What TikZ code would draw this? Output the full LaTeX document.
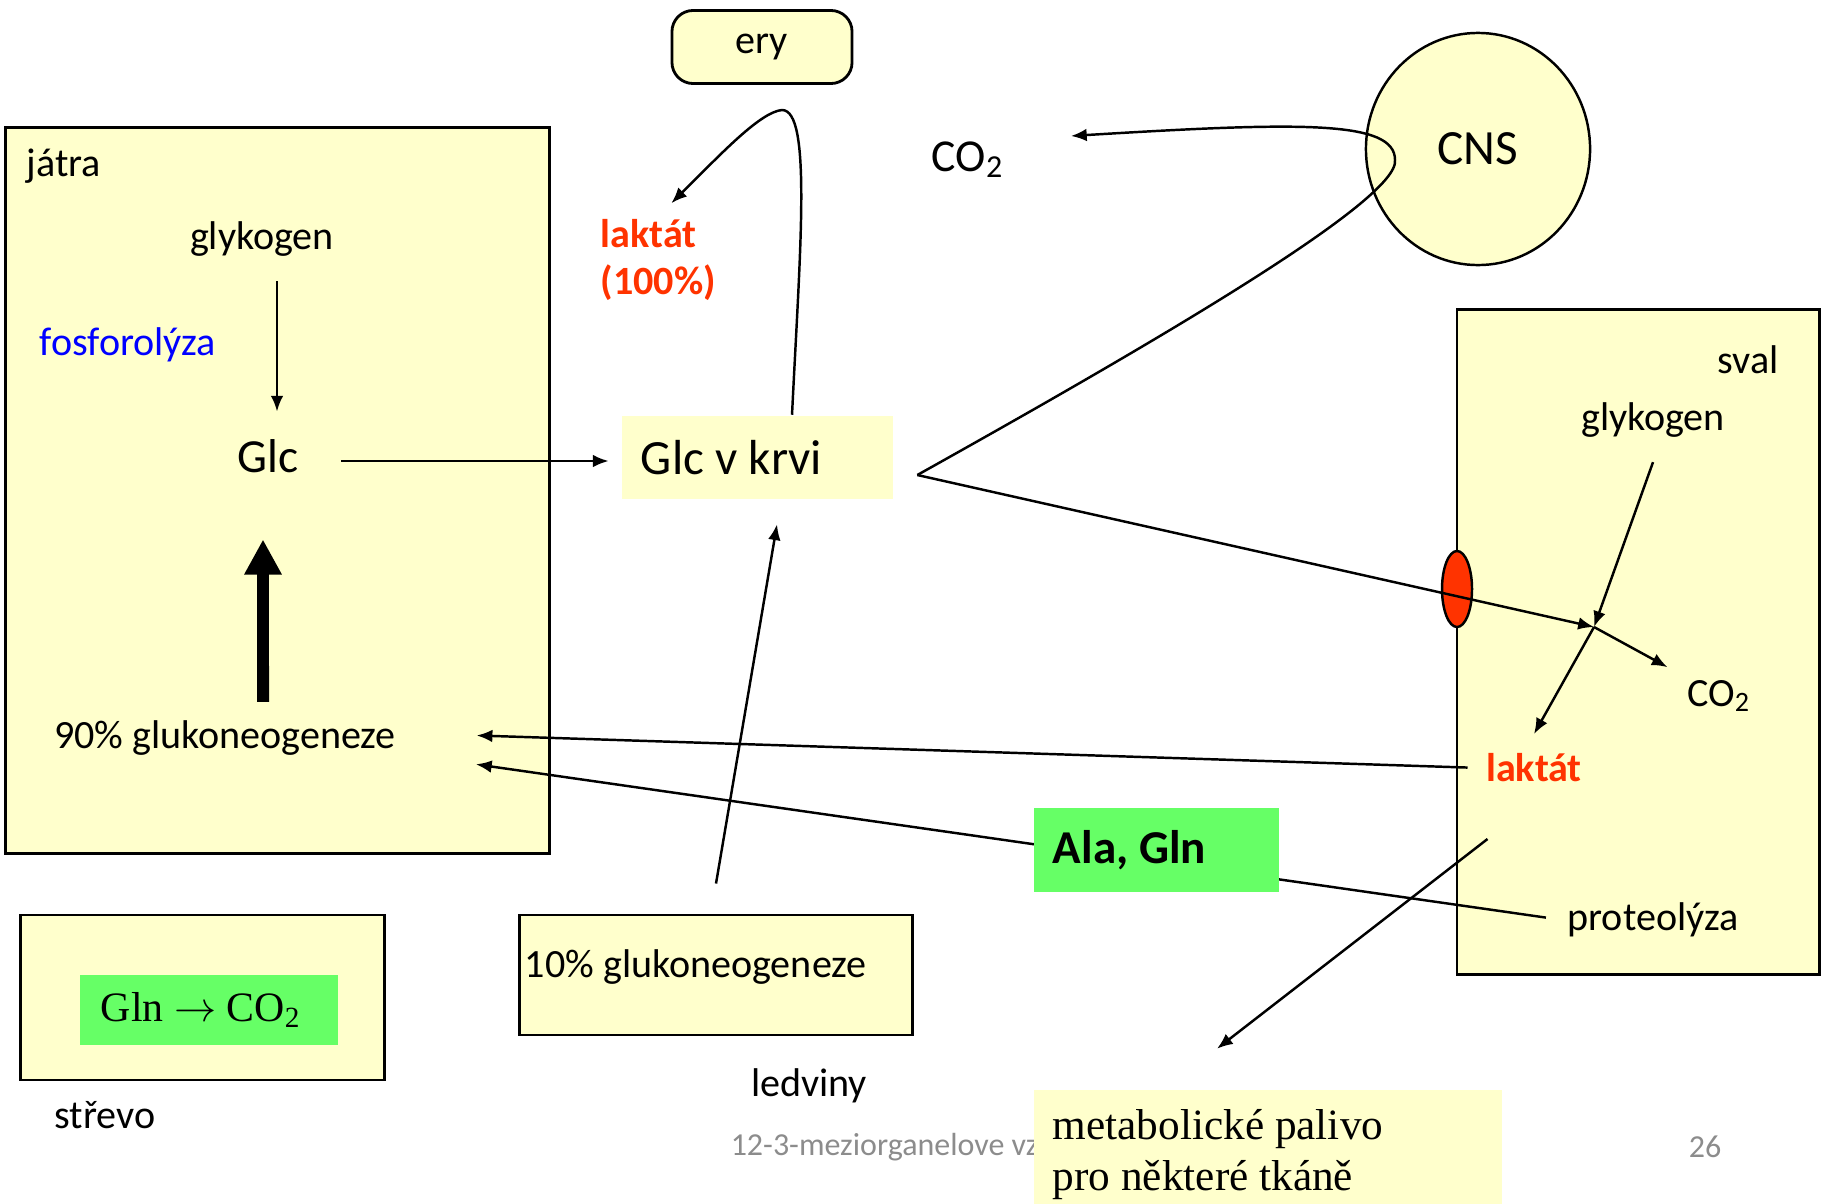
\documentclass[tikz,border=0pt]{standalone}
\usepackage{fontspec}
\setmainfont{Carlito}
\newfontfamily\timesfont{Liberation Serif}
\usetikzlibrary{arrows.meta,shapes.geometric}
\definecolor{paleyellow}{HTML}{FFFFCC}
\definecolor{brightgreen}{HTML}{66FF66}
\definecolor{lacred}{HTML}{FF3300}
\definecolor{footgray}{HTML}{8C8C8C}
\begin{document}
\begin{tikzpicture}[x=0.01cm,y=-0.01cm,line width=0.7pt,
		>={Latex[length=4.5pt,width=3.6pt]},
		font=\fontsize{11.4}{13.6}\selectfont,
		organ/.style={draw,fill=paleyellow,line width=0.8pt},
		txt/.style={inner sep=1pt},
		big/.style={font=\fontsize{14}{16}\selectfont},
		serif/.style={font=\timesfont\fontsize{12.3}{14.5}\selectfont},
		bigarrow/.style={line width=3.4pt,-{Triangle[length=10pt,width=10pt]}}]
		\useasboundingbox (0,0) rectangle (1825,1203);
		% organs
		\node [organ,minimum width=5.43cm,minimum height=7.25cm] (liver) at (277.5,490.5) {};
		\node [organ,rounded corners=6pt,minimum width=1.8cm,minimum height=0.73cm] (ery) at (762,47) {ery};
		\node [organ,minimum width=3.62cm,minimum height=6.64cm] (muscle) at (1638,642) {};
		\node [organ,minimum width=3.92cm,minimum height=1.2cm] (kidney) at (716,975) {};
		\node [organ,minimum width=3.63cm,minimum height=1.65cm] (gut) at (202.5,997.5) {};
		\node [organ,ellipse,line width=0.7pt,minimum width=2.24cm,minimum height=2.32cm,big] (cns) at (1478,149) {CNS};
		\node [fill=paleyellow,minimum width=2.71cm,minimum height=0.83cm,text width=2.33cm,inner xsep=0.19cm,align=flush left,big] (blood) at (757.5,457.5) {Glc v krvi};
		% liver
		\node [txt,anchor=west] (livername) at (22,166) {játra};
		\node [txt] (glykL) at (262,239) {glykogen};
		\node [txt,text=blue] (phos) at (128,345) {fosforolýza};
		\node [txt,big,font=\fontsize{13.5}{16}\selectfont] (glcL) at (268,456) {Glc};
		\node [txt] (gng90) at (225,738) {90\% glukoneogeneze};
		\node [txt,anchor=west,align=flush left,text=lacred,font=\bfseries\fontsize{11.4}{13.6}\selectfont] (lak100) at (596,260) {laktát\\(100\%)};
		\node [txt,font=\fontsize{13}{15}\selectfont] (co2top) at (968,160) {CO\textsubscript{2}};
		% muscle
		\node [txt] (svalname) at (1748,360) {sval};
		\node [txt] (glykS) at (1653,420) {glykogen};
		\node [txt] (co2S) at (1719,696) {CO\textsubscript{2}};
		\node [txt,text=lacred,font=\bfseries\fontsize{11.4}{13.6}\selectfont] (lakS) at (1534,768) {laktát};
		\node [txt] (proteo) at (1653,920) {proteolýza};
		\node [organ,ellipse,fill=lacred,line width=0.7pt,minimum width=0.3cm,minimum height=0.76cm,inner sep=0pt] (carrier) at (1457,589) {};
		\coordinate (jct) at (1594,627);
		% kidney, gut
		\node [txt,anchor=west] (gng10) at (520,967) {10\% glukoneogeneze};
		\node [txt] (kidneyname) at (809,1086) {ledviny};
		\node [fill=brightgreen,minimum width=2.58cm,minimum height=0.7cm,text width=2.16cm,inner xsep=0.21cm,align=flush left,serif,font=\timesfont\fontsize{11.9}{14}\selectfont] (glnco) at (209,1010) {Gln $\rightarrow$ CO\textsubscript{2}};
		\node [txt] (gutname) at (105,1115) {střevo};
		% footer
		\node [txt,anchor=west,text=footgray,font=\fontsize{9.1}{11}\selectfont] (footer) at (726,1147) {12-3-meziorganelove vz};
		\node [txt,text=footgray,font=\fontsize{9.1}{11}\selectfont] (pagenum) at (1705,1147) {26};
		% connectors
		\draw [->,shorten >=0.23cm] ([xshift=0.15cm,yshift=-0.2cm]glykL.south) -- ([xshift=0.15cm]glykL.south |- glcL.north);
		\draw [->,shorten <=0.38cm,shorten >=0.12cm] ([yshift=-0.05cm]glcL.east) -- ([yshift=-0.05cm]glcL.east -| blood.west);
		\draw [bigarrow] ([xshift=0.38cm,yshift=0.14cm]gng90.north) -- ([xshift=-0.05cm,yshift=-0.62cm]glcL.south);
		\draw [->] ([xshift=0.345cm]blood.north) .. controls (800,250) and (812,110) .. (782,110)
			.. controls (760,112) and (720,155) .. ([xshift=0.13cm,yshift=0.11cm]lak100.north);
		\coordinate (fork) at ([shift={(0.23cm,-0.175cm)}]blood.east);
		\draw [->] (fork) .. controls (1150,345) and (1400,200) .. (1395,160)
			.. controls (1395,120) and (1300,122) .. ([xshift=0.62cm,yshift=0.24cm]co2top.east);
		\draw [->] (fork) -- (jct);
		\draw [->] ([yshift=-0.2cm]glykS.south) -- (jct);
		\draw [->,shorten >=0.17cm] (jct) -- (co2S.north west);
		\draw [->] (jct) -- ([yshift=0.15cm]lakS.north);
		\draw [->,shorten <=0.14cm,shorten >=0.76cm] (lakS.west) -- ([yshift=0.05cm]gng90.east);
		\draw [->,shorten <=0.17cm,shorten >=0.76cm] (proteo.west) -- ([yshift=-0.155cm]gng90.east);
		\node [fill=brightgreen,minimum width=2.45cm,minimum height=0.84cm,text width=2.07cm,inner xsep=0.19cm,align=flush left,font=\bfseries\fontsize{13.4}{16}\selectfont] (aminos) at (1156.5,850) {Ala, Gln};
		\node [fill=paleyellow,minimum width=4.68cm,minimum height=1.3cm,text width=4.3cm,inner xsep=0.19cm,align=flush left,serif] (fuel) at (1268,1155) {metabolické palivo\\pro některé tkáně};
		\draw [->] ([xshift=0.06cm,yshift=-0.52cm]lakS.south west) -- ([shift={(-0.51cm,0.4cm)}]fuel.north);
		\draw [->] ([yshift=0.3cm]kidney.north) -- ([shift={(0.195cm,-0.24cm)}]blood.south);
	\end{tikzpicture}
\end{document}
